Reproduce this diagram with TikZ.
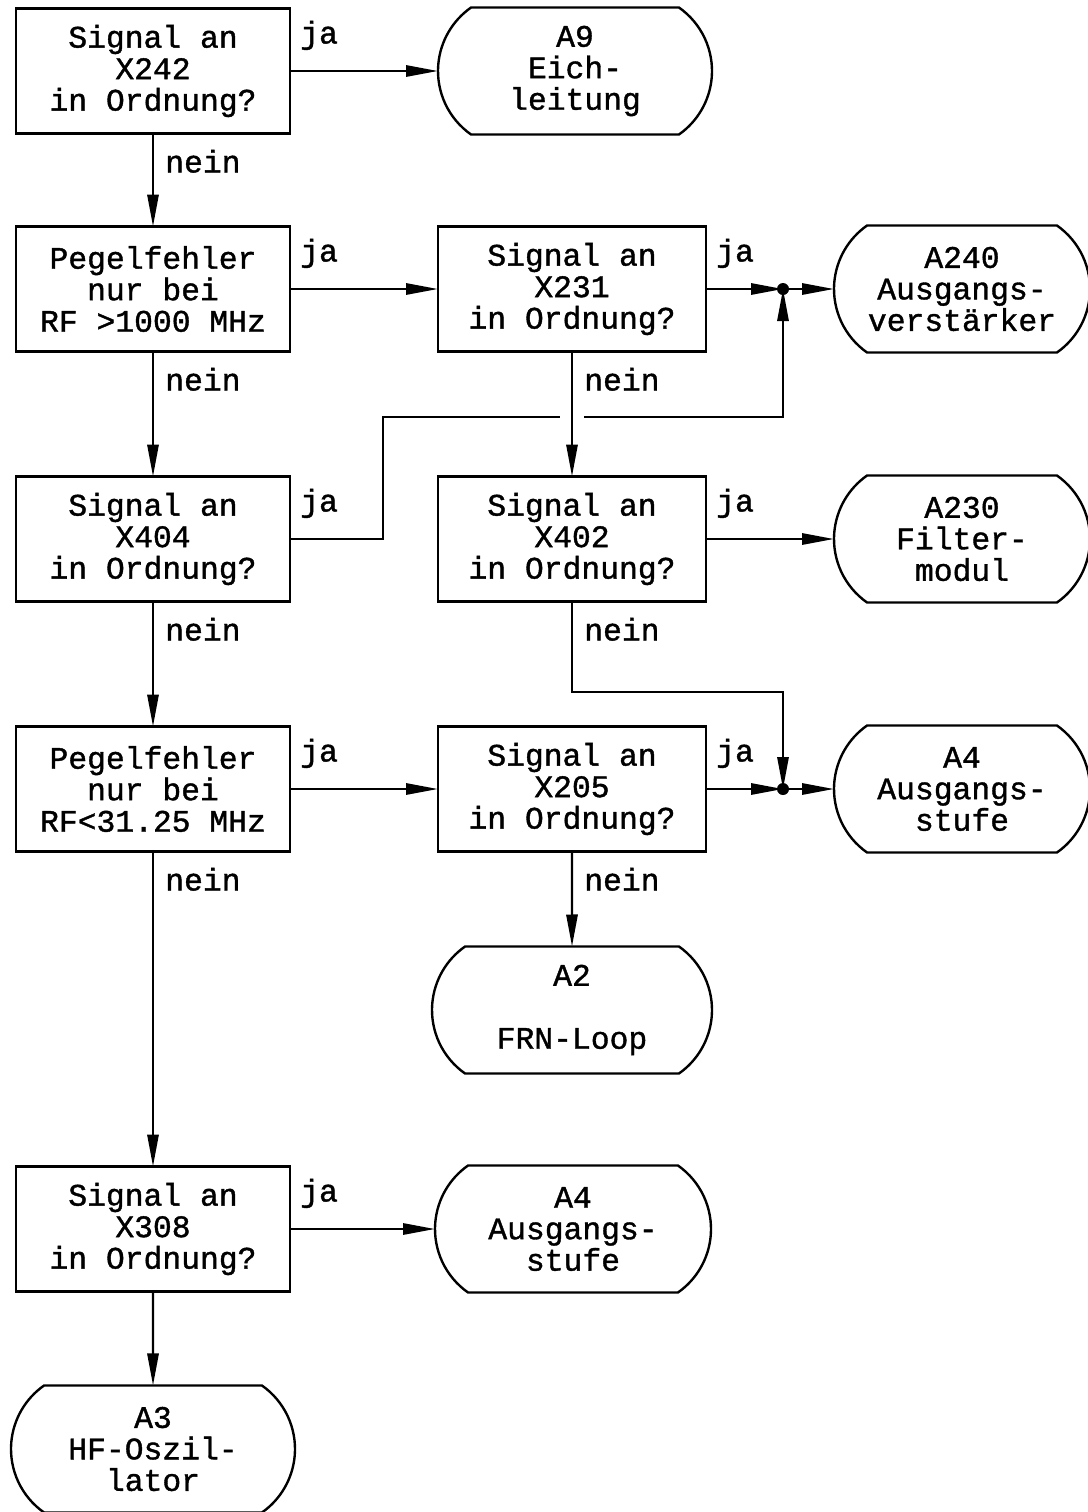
\documentclass[tikz,border=0pt]{standalone}
\usepackage{fontspec}
\newfontfamily\typewriter{Liberation Mono}[FakeBold=1.2]
\usetikzlibrary{arrows.meta,positioning,shapes.misc}

\begin{document}
\begin{tikzpicture}[
    node distance=3.125cm and 3.7cm,
    box/.style={rectangle, draw, line width=1.7pt, outer sep=0pt, minimum width=6.85cm, minimum height=3.125cm, align=center, inner sep=0pt, font=\typewriter\fontsize{22.3}{22.4}\selectfont},
    term/.style={rounded rectangle, rounded rectangle arc length=110, draw, line width=1.7pt, outer sep=0pt, minimum width=6.9cm, minimum height=3.175cm, align=center, inner sep=0pt, font=\typewriter\fontsize{22.3}{22.4}\selectfont},
    lbl/.style={inner sep=0pt, font=\typewriter\fontsize{22.3}{22.4}\selectfont},
    arr/.style={-{Triangle[length=0.8cm, width=0.28cm]}, line width=1.7pt}
]
\useasboundingbox (0,0) rectangle (27.2,-37.8);

% left column: checks
\node[box] (sig242) at (3.825,-1.775) {Signal an\\X242\\in Ordnung?};
\node[box, below=2.325cm of sig242] (peg1000) {Pegelfehler\\nur bei\\RF >1000 MHz};
\node[box, below=of peg1000] (sig404) {Signal an\\X404\\in Ordnung?};
\node[box, below=of sig404] (peg31) {Pegelfehler\\nur bei\\RF<31.25 MHz};
\node[box, below=7.875cm of peg31] (sig308) {Signal an\\X308\\in Ordnung?};

% middle column
\node[term, minimum width=6.85cm, right=3.7cm of sig242] (eich) {A9\\Eich-\\leitung};
\node[box, minimum width=6.7cm, right=3.7cm of peg1000] (sig231) {Signal an\\X231\\in Ordnung?};
\node[box, minimum width=6.7cm, below=of sig231] (sig402) {Signal an\\X402\\in Ordnung?};
\node[box, minimum width=6.7cm, below=of sig402] (sig205) {Signal an\\X205\\in Ordnung?};
\node[term, minimum width=7cm, below=2.375cm of sig205] (frn) {A2\\~\\FRN-Loop};
\node[term, right=3.625cm of sig308] (stufe2) {A4\\Ausgangs-\\stufe};
\node[term, minimum width=7.1cm, below=2.35cm of sig308] (hfosz) {A3\\HF-Oszil-\\lator};

% right column: modules
\node[term, minimum width=6.4cm, right=3.2cm of sig231] (ausgv) {A240\\Ausgangs-\\verstärker};
\node[term, minimum width=6.4cm, right=3.2cm of sig402] (filter) {A230\\Filter-\\modul};
\node[term, minimum width=6.4cm, right=3.2cm of sig205] (stufe1) {A4\\Ausgangs-\\stufe};

% junctions and bends
\coordinate[right=1.925cm of sig231] (j1);
\coordinate[below=3.2cm of j1] (k1);
\coordinate[right=2.325cm of sig404] (k2);
\coordinate[right=1.925cm of sig205] (j3);
\coordinate[above=2.425cm of j3] (k3);

\draw[arr] (sig242) -- (eich);
\draw[arr] (sig242) -- (peg1000);
\draw[arr] (peg1000) -- (sig231);
\draw[arr] (peg1000) -- (sig404);
\draw[arr] (sig231) -- (j1);
\draw[arr] (j1) -- (ausgv);
\draw[arr] (sig404) -- (k2) |- (k1) -- (j1);
\draw[arr, preaction={draw=white, -, line width=0.6cm, shorten <=1cm, shorten >=1.2cm}] (sig231) -- (sig402);
\draw[arr] (sig402) -- (filter);
\draw[arr] (sig402) |- (k3) -- (j3);
\draw[arr] (sig404) -- (peg31);
\draw[arr] (peg31) -- (sig205);
\draw[arr] (sig205) -- (j3);
\draw[arr] (j3) -- (stufe1);
\draw[arr] (sig205) -- (frn);
\draw[arr] (peg31) -- (sig308);
\draw[arr] (sig308) -- (stufe2);
\draw[arr] (sig308) -- (hfosz);
\fill (j1) circle (0.15cm);
\fill (j3) circle (0.15cm);

% ja / nein labels
\node[lbl, below right=0.3cm and 0.25cm of sig242.north east] (ja1) {ja};
\node[lbl, below right=0.3cm and 0.25cm of peg1000.north east] (ja2) {ja};
\node[lbl, below right=0.3cm and 0.25cm of sig404.north east] (ja3) {ja};
\node[lbl, below right=0.3cm and 0.25cm of peg31.north east] (ja4) {ja};
\node[lbl, below right=0.3cm and 0.25cm of sig308.north east] (ja5) {ja};
\node[lbl, below right=0.3cm and 0.25cm of sig231.north east] (ja6) {ja};
\node[lbl, below right=0.3cm and 0.25cm of sig402.north east] (ja7) {ja};
\node[lbl, below right=0.3cm and 0.25cm of sig205.north east] (ja8) {ja};
\node[lbl, below right=0.4cm and 0.3cm of sig242.south] (nein1) {nein};
\node[lbl, below right=0.4cm and 0.3cm of peg1000.south] (nein2) {nein};
\node[lbl, below right=0.4cm and 0.3cm of sig404.south] (nein3) {nein};
\node[lbl, below right=0.4cm and 0.3cm of peg31.south] (nein4) {nein};
\node[lbl, below right=0.4cm and 0.3cm of sig231.south] (nein5) {nein};
\node[lbl, below right=0.4cm and 0.3cm of sig402.south] (nein6) {nein};
\node[lbl, below right=0.4cm and 0.3cm of sig205.south] (nein7) {nein};
\end{tikzpicture}
\end{document}
